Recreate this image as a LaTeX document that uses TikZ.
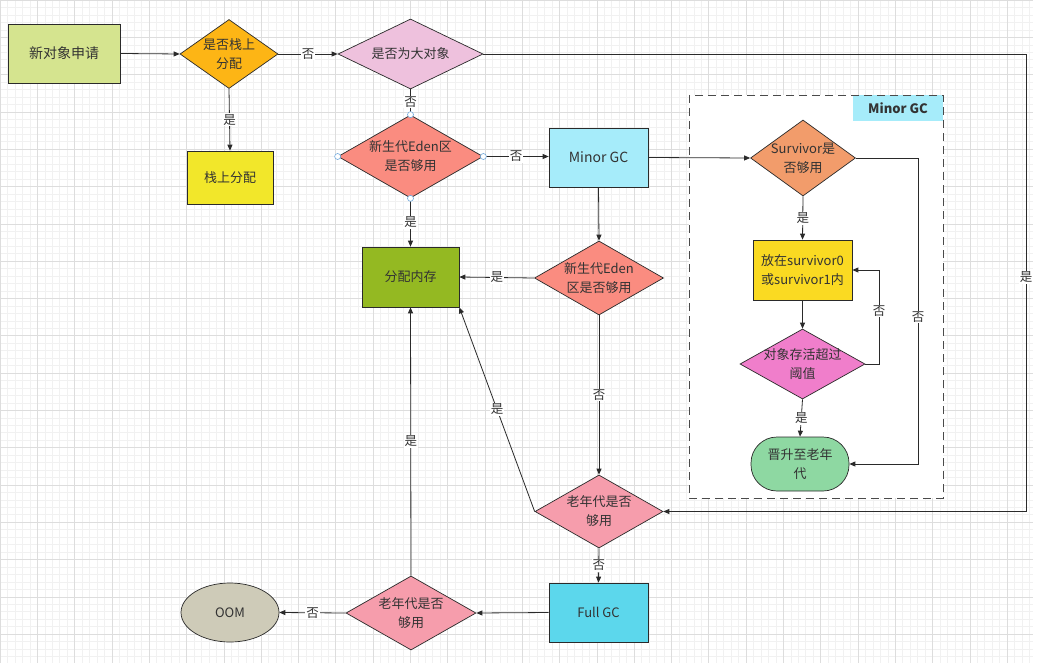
\documentclass[tikz,border=0pt]{standalone}
\usepackage{fontspec}
\setmainfont{Noto Sans CJK SC}
\usetikzlibrary{shapes.geometric,arrows.meta}
\definecolor{cNew}{HTML}{D5E48F}
\definecolor{cStackQ}{HTML}{FDB515}
\definecolor{cStack}{HTML}{F2E72A}
\definecolor{cBig}{HTML}{EEC1DD}
\definecolor{cEden}{HTML}{FA8C80}
\definecolor{cMinor}{HTML}{A6ECFA}
\definecolor{cAlloc}{HTML}{94B922}
\definecolor{cOld}{HTML}{F69DAC}
\definecolor{cFull}{HTML}{5CD7EC}
\definecolor{cOOM}{HTML}{CECBB8}
\definecolor{cSurv}{HTML}{F29C6B}
\definecolor{cPut}{HTML}{FADA22}
\definecolor{cAge}{HTML}{F07ECB}
\definecolor{cProm}{HTML}{8ED8A2}
\definecolor{cLine}{HTML}{2A2A2A}
\definecolor{cText}{HTML}{333333}
\definecolor{gMinor}{HTML}{F1F1F1}
\definecolor{gMajor}{HTML}{DDDDDD}
\definecolor{cSel}{HTML}{6FA8DC}
\newcommand{\mfont}{\fontsize{13pt}{19pt}\selectfont}
\newcommand{\bfontx}{\fontsize{14pt}{19pt}\selectfont}
\newcommand{\lfont}{\fontsize{12.5pt}{14pt}\selectfont}
\begin{document}
\begin{tikzpicture}[x=1pt,y=-1pt,
  box/.style={draw=cLine, line width=0.7pt, rectangle, inner sep=0pt, font=\mfont, text=cText, align=center},
  dia/.style={draw=cLine, line width=0.7pt, diamond, inner sep=0pt},
  dtext/.style={align=center, font=\mfont, text=cText, inner sep=0pt},
  arr/.style={draw=cLine, line width=0.8pt, -{Triangle[length=6pt,width=5pt]}},
  ln/.style={draw=cLine, line width=0.8pt},
  lbl/.style={fill=white, inner sep=1pt, font=\lfont, text=cText},
  selc/.style={circle, draw=cSel, fill=white, line width=0.6pt, minimum size=6pt, inner sep=0pt}
]
\useasboundingbox (0,0) rectangle (1056,663);
\fill[white] (0,0) rectangle (1056,663);
% grid
\foreach \i in {0,...,138} {\draw[gMinor, line width=0.5pt] (\i*7.46,0) -- (\i*7.46,663);}
\foreach \j in {0,...,88} {\draw[gMinor, line width=0.5pt] (0,\j*7.46) -- (1033,\j*7.46);}
\foreach \i in {0,...,27} {\draw[gMajor, line width=0.6pt] (\i*37.3,0) -- (\i*37.3,663);}
\foreach \j in {0,...,17} {\draw[gMajor, line width=0.6pt] (0,\j*37.3) -- (1033,\j*37.3);}
% dashed Minor GC frame
\fill[white] (689,95) rectangle (943,498);
\fill[cMinor] (853,95) rectangle (943,121);
\node[font=\bfseries\fontsize{13pt}{15pt}\selectfont, text=cText, inner sep=0pt] (mgclabel) at (898,108) {Minor GC};
\draw[cLine!85, line width=0.9pt, dash pattern=on 8pt off 5pt] (689,95) rectangle (943,498);

% nodes
\node[box, fill=cNew, minimum width=112pt, minimum height=59pt, font=\bfontx] (new) at (64,53.5) {新对象申请};
\node[dia, fill=cStackQ, minimum width=98pt, minimum height=69pt,
  label={[dtext]center:{是否栈上\\分配}}] (stackq) at (229,54) {};
\node[box, fill=cStack, minimum width=86pt, minimum height=53pt] (stack) at (230,177.5) {栈上分配};
\node[dia, fill=cBig, minimum width=145pt, minimum height=70pt,
  label={[dtext]center:{是否为大对象}}] (big) at (410.5,54) {};
\node[dia, fill=cEden, minimum width=145pt, minimum height=83pt,
  label={[dtext]center:{新生代Eden区\\是否够用}}] (eden1) at (410.5,156.5) {};
\node[box, fill=cMinor, minimum width=99pt, minimum height=59pt, font=\bfontx] (minor) at (598.5,157.5) {Minor GC};
\node[box, fill=cAlloc, minimum width=97pt, minimum height=60pt] (alloc) at (410.5,277) {分配内存};
\node[dia, fill=cEden, minimum width=129pt, minimum height=74pt,
  label={[dtext]center:{新生代Eden\\区是否够用}}] (eden2) at (599,278) {};
\node[dia, fill=cOld, minimum width=128pt, minimum height=73pt,
  label={[dtext]center:{老年代是否\\够用}}] (old1) at (599,511.5) {};
\node[box, fill=cFull, minimum width=99pt, minimum height=59pt] (full) at (598.5,612.5) {Full GC};
\node[dia, fill=cOld, minimum width=130pt, minimum height=74pt,
  label={[dtext]center:{老年代是否\\够用}}] (old2) at (411,613) {};
\node[ellipse, draw=cLine, line width=0.7pt, fill=cOOM, minimum width=98pt, minimum height=59pt, inner sep=0pt, font=\mfont, text=cText] (oom) at (230,612.5) {OOM};
\node[dia, fill=cSurv, minimum width=105pt, minimum height=76pt,
  label={[dtext]center:{Survivor是\\否够用}}] (surv) at (803,158) {};
\node[box, fill=cPut, minimum width=99pt, minimum height=60pt] (put) at (802.5,270) {放在survivor0\\或survivor1内};
\node[dia, fill=cAge, minimum width=125pt, minimum height=70pt,
  label={[dtext]center:{对象存活超过\\阈值}}] (age) at (802.5,364) {};
\node[box, fill=cProm, rounded corners=26pt, minimum width=98pt, minimum height=54pt] (prom) at (800,464) {晋升至老年\\代};

% helper coordinates
\coordinate (cbig) at (1026,277);
\coordinate (csurv) at (918,317);
\coordinate (cage) at (879,311);

% connectors
\draw[arr] (new.east) -- (stackq.west);
\draw[arr] (stackq.east) -- node[lbl]{否} (big.west);
\draw[arr] (stackq.south) -- node[lbl]{是} (stack.north);
\draw[ln] (big.south) -- node[lbl]{否} (eden1.north);
\draw[arr] (big.east) -| (cbig) node[lbl]{是} |- (old1.east);
\draw[arr] (eden1.east) -- node[lbl]{否} (minor.west |- eden1.east);
\draw[arr] (eden1.south) -- node[lbl]{是} (alloc.north);
\draw[arr] (minor.east) -- (surv.west);
\draw[arr] (minor.south) -- (eden2.north);
\draw[arr] (eden2.west) -- node[lbl]{是} (alloc.east);
\draw[arr] (eden2.south) -- node[lbl]{否} (old1.north);
\draw[arr] (old1.west) -- node[lbl]{是} (alloc.south east);
\draw[arr] (old1.south) -- node[lbl]{否} (full.north);
\draw[arr] (full.west) -- (old2.east);
\draw[arr] (old2.west) -- node[lbl]{否} (oom.east);
\draw[arr] (old2.north) -- node[lbl]{是} (alloc.south);
\draw[arr] (surv.south) -- node[lbl]{是} (put.north);
\draw[arr] (surv.east) -| (csurv) node[lbl]{否} |- (prom.east);
\draw[arr] (put.south) -- (age.north);
\draw[arr] (age.east) -| (cage) node[lbl]{否} |- (put.east);
\draw[arr] (age.south) -- node[lbl]{是} (prom.north);

% selection handles on eden1
\node[selc] (s1) at (eden1.north) {};
\node[selc] (s2) at (eden1.south) {};
\node[selc] (s3) at (eden1.west) {};
\node[selc] (s4) at (eden1.east) {};
\end{tikzpicture}
\end{document}
